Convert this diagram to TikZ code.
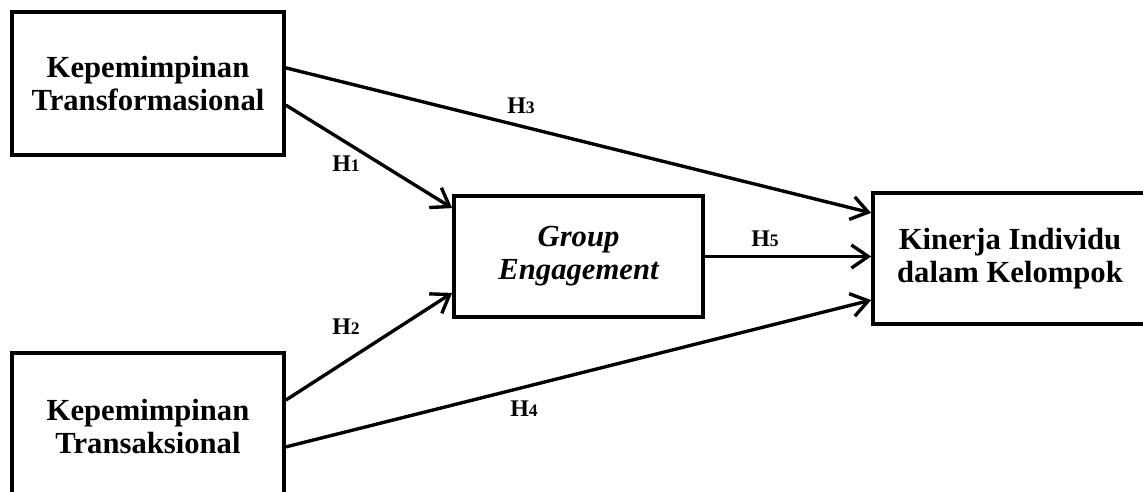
\documentclass[tikz,border=0pt]{standalone}
\usepackage{fontspec}
\setmainfont{Liberation Serif}
\usetikzlibrary{positioning}
\usetikzlibrary{arrows.meta}

\newcommand{\hyp}[1]{H{\fontsize{12.5}{12.5}\selectfont #1}}

\begin{document}
\begin{tikzpicture}[x=0.025cm,y=-0.025cm,
 varbox/.style={draw,line width=2.6pt,align=center,inner sep=0pt,
   font=\fontsize{21.8}{23.5}\selectfont\bfseries},
 link/.style={line width=2.4pt,-{Straight Barb[length=4.2mm,width=5.8mm]}},
 hlabel/.style={inner sep=0pt,font=\fontsize{17}{17}\selectfont\bfseries}]
 \useasboundingbox (0,0) rectangle (1143,492);
 % variables
 \node[varbox,minimum width=6.8cm,minimum height=3.575cm] (trf) at (148,83.5) {Kepemimpinan\\Transformasional};
 \node[varbox,minimum width=6.8cm,minimum height=3.675cm] (trs) at (148,426.5) {Kepemimpinan\\Transaksional};
 \node[varbox,minimum width=6.225cm,minimum height=3.025cm] (grp) at (578.5,256.5) {\itshape Group\\\itshape Engagement};
 \node[varbox,minimum width=6.85cm,minimum height=3.275cm] (kin) at (1010,258.5) {Kinerja Individu\\dalam Kelompok};
 % hypotheses
 \draw[link] ([yshift=0.39cm]trf.east) -- ([yshift=1.14cm]kin.west);
 \draw[link] ([yshift=-0.54cm]trf.east) -- ([yshift=1.21cm]grp.west);
 \draw[link] ([yshift=0.66cm]trs.east) -- ([yshift=-0.91cm]grp.west);
 \draw[link] ([yshift=-0.51cm]trs.east) -- ([yshift=-1.04cm]kin.west);
 \draw[link] (grp.east) -- (grp.east -| kin.west);
 \node[hlabel] (h1) at (346,164) {\hyp{1}};
 \node[hlabel] (h2) at (346,327) {\hyp{2}};
 \node[hlabel] (h3) at (521,106) {\hyp{3}};
 \node[hlabel] (h4) at (524,409) {\hyp{4}};
 \node[hlabel] (h5) at (765,239) {\hyp{5}};
\end{tikzpicture}
\end{document}
